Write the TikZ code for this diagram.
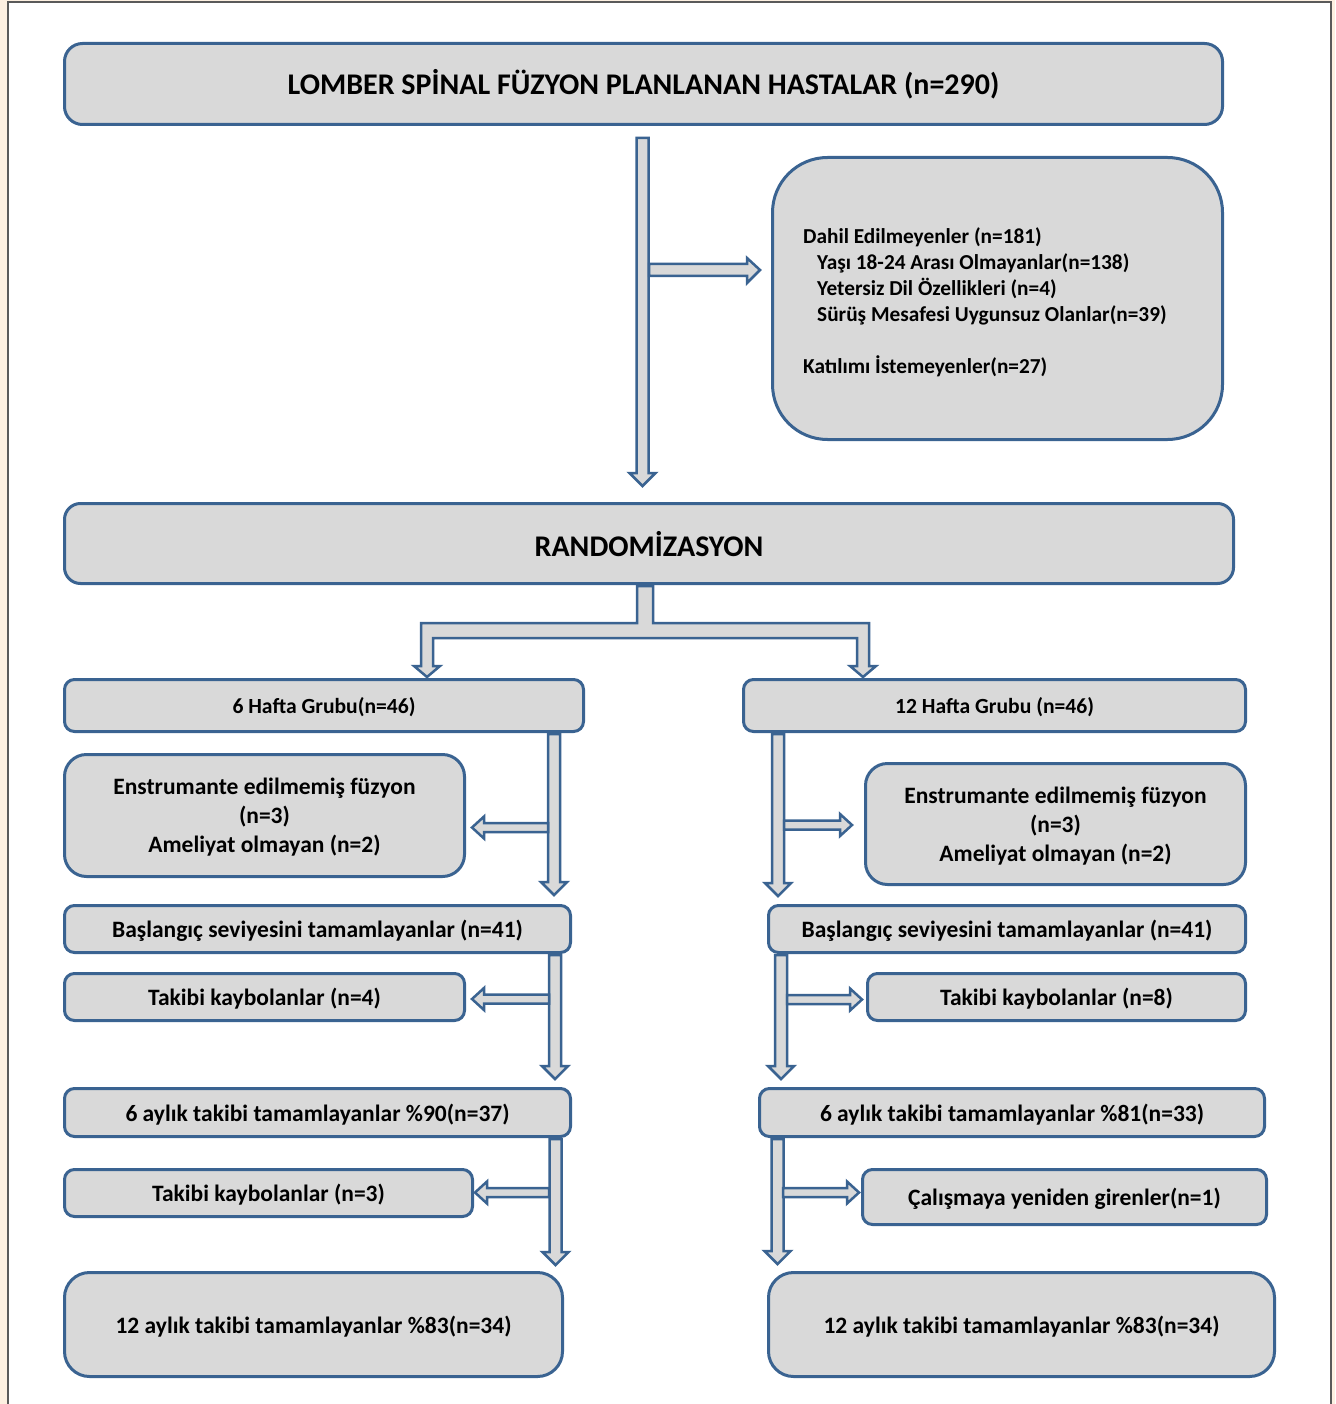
\documentclass[tikz,border=0pt]{standalone}
\usepackage{fontspec}
\setmainfont{Carlito}
\definecolor{bl}{HTML}{3A6391}
\definecolor{gr}{HTML}{D9D9D9}
\definecolor{cream}{HTML}{FDF0E1}
\definecolor{frame}{HTML}{5A5A5A}
\tikzset{
  box/.style={draw=bl, fill=gr, line width=3pt, rounded corners=#1, inner sep=0pt, text depth=0pt, align=center, font=\bfseries\fontsize{23.5}{29}\selectfont},
  box/.default=10pt,
  arr/.style={draw=bl, fill=gr, line width=2.5pt, line join=miter},
}
\newcommand{\vArr}[3]{\draw[arr] (#1-6,#2) -- (#1+6,#2) -- (#1+6,#3-13) -- (#1+13,#3-13) -- (#1,#3) -- (#1-13,#3-13) -- (#1-6,#3-13) -- cycle;}
\newcommand{\rArr}[3]{\draw[arr] (#2,#1-4.5) -- (#3-12,#1-4.5) -- (#3-12,#1-11) -- (#3,#1) -- (#3-12,#1+11) -- (#3-12,#1+4.5) -- (#2,#1+4.5) -- cycle;}
\newcommand{\lArr}[3]{\draw[arr] (#2,#1-4.5) -- (#3+12,#1-4.5) -- (#3+12,#1-11) -- (#3,#1) -- (#3+12,#1+11) -- (#3+12,#1+4.5) -- (#2,#1+4.5) -- cycle;}
\begin{document}
\begin{tikzpicture}[x=1pt,y=-1pt]
\useasboundingbox (0,0) rectangle (1335,1404);
\fill[cream] (0,0) rectangle (1335,1404);
\fill[white] (8,2) rectangle (1331,1404);
\draw[frame, line width=1.5pt] (8,1410) -- (8,2) -- (1331,2) -- (1331,1410);
% arrows
\vArr{642.5}{138}{486}
\draw[arr] (649,264) -- (747,264) -- (747,258) -- (760,270) -- (747,283) -- (747,276) -- (649,276) -- cycle;
\draw[arr] (637,586) -- (653,586) -- (653,623) -- (869,623) -- (869,666) -- (876,666) -- (863,677) -- (850,666) -- (857,666) -- (857,638) -- (433,638) -- (433,666) -- (440,666) -- (427,677) -- (414,666) -- (421,666) -- (421,623) -- (637,623) -- cycle;
% left column
\vArr{554}{734}{895}
\lArr{827.5}{548}{472}
\vArr{555}{955}{1079}
\lArr{999}{549}{472}
\vArr{555.5}{1139}{1265}
\lArr{1192.5}{549}{475}
% right column
\vArr{778}{734}{896}
\rArr{825}{784}{852}
\vArr{781}{955}{1079}
\rArr{999.5}{787}{862}
\vArr{777.5}{1139}{1264}
\rArr{1192.5}{783}{859}
% boxes
\node[box=18pt, minimum width=1158pt, minimum height=81pt, text depth=4pt, font=\bfseries\fontsize{30}{34}\selectfont] (top) at (643.5,84) {LOMBER SPİNAL FÜZYON PLANLANAN HASTALAR (n=290)};
\node[box=55pt, minimum width=450pt, minimum height=282pt] (excl) at (997.5,298.5) {};
\node[anchor=west, align=left, inner sep=0pt, font=\bfseries\fontsize{21.3}{26}\selectfont] (excltext) at (803,302) {Dahil Edilmeyenler (n=181)\\
\hspace*{14pt}Yaşı 18-24 Arası Olmayanlar(n=138)\\
\hspace*{14pt}Yetersiz Dil Özellikleri (n=4)\\
\hspace*{14pt}Sürüş Mesafesi Uygunsuz Olanlar(n=39)\\[26pt]
Katılımı İstemeyenler(n=27)};
\node[box=16pt, minimum width=1169pt, minimum height=80pt, font=\bfseries\fontsize{30}{34}\selectfont] (rand) at (649,543.5) {RANDOMİZASYON};
\node[box, minimum width=519pt, minimum height=52pt, font=\bfseries\fontsize{21.6}{26}\selectfont] (h6) at (324,705.5) {6 Hafta Grubu(n=46)};
\node[box, minimum width=502pt, minimum height=52pt, font=\bfseries\fontsize{21.6}{26}\selectfont] (h12) at (994.5,705.5) {12 Hafta Grubu (n=46)};
\node[box=22pt, minimum width=400pt, minimum height=122pt] (ensL) at (264.5,815.5) {Enstrumante edilmemiş füzyon\\(n=3)\\Ameliyat olmayan (n=2)};
\node[box=22pt, minimum width=380pt, minimum height=121pt] (ensR) at (1055.5,824) {Enstrumante edilmemiş füzyon\\(n=3)\\Ameliyat olmayan (n=2)};
\node[box, minimum width=506pt, minimum height=47pt] (basL) at (317.5,929) {Başlangıç seviyesini tamamlayanlar (n=41)};
\node[box, minimum width=477pt, minimum height=47pt] (basR) at (1007,929) {Başlangıç seviyesini tamamlayanlar (n=41)};
\node[box, minimum width=400pt, minimum height=47pt] (tkL1) at (264.5,997) {Takibi kaybolanlar (n=4)};
\node[box, minimum width=378pt, minimum height=47pt] (tkR1) at (1056.5,997) {Takibi kaybolanlar (n=8)};
\node[box, minimum width=506pt, minimum height=48pt] (ayL) at (317.5,1112.5) {6 aylık takibi tamamlayanlar \%90(n=37)};
\node[box, minimum width=505pt, minimum height=48pt] (ayR) at (1012,1112.5) {6 aylık takibi tamamlayanlar \%81(n=33)};
\node[box, minimum width=408pt, minimum height=47pt] (tkL2) at (268.5,1193) {Takibi kaybolanlar (n=3)};
\node[box, minimum width=404pt, minimum height=55pt] (cal) at (1064.5,1197) {Çalışmaya yeniden girenler(n=1)};
\node[box=25pt, minimum width=498pt, minimum height=104pt] (yL) at (313.5,1324.5) {12 aylık takibi tamamlayanlar \%83(n=34)};
\node[box=25pt, minimum width=506pt, minimum height=104pt] (yR) at (1021.5,1324.5) {12 aylık takibi tamamlayanlar \%83(n=34)};
\end{tikzpicture}
\end{document}
